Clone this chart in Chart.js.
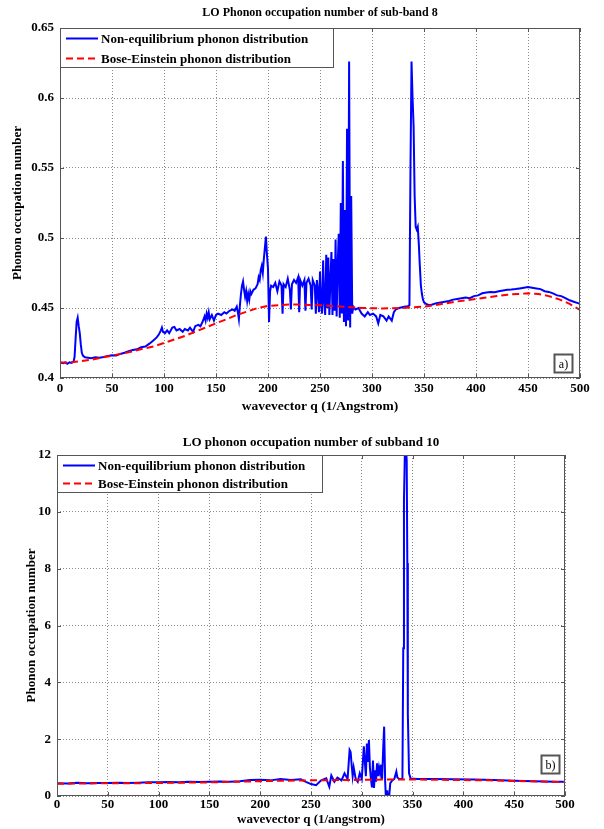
<!DOCTYPE html>
<html><head><meta charset="utf-8">
<script src="https://cdn.jsdelivr.net/npm/chart.js@4/dist/chart.umd.min.js"></script>
<style>
html,body{margin:0;padding:0;background:#fff;width:604px;height:829px;overflow:hidden}
canvas{position:absolute;left:0}
#c1{top:0}
#c2{top:418px}
</style></head><body>
<canvas id="c1" width="604" height="418" style="width:604px;height:418px"></canvas>
<canvas id="c2" width="604" height="411" style="width:604px;height:411px"></canvas>
<script>
// ---------- Panel a) sub-band 8 ----------
const titleA = 'LO Phonon occupation number of sub-band 8';
const xLabelA = 'wavevector q (1/Angstrom)';
const yLabel = 'Phonon occupation number';
const seriesNames = ['Non-equilibrium phonon distribution', 'Bose-Einstein phonon distribution'];
const xTicks = [0, 50, 100, 150, 200, 250, 300, 350, 400, 450, 500];
const xTickLabels = ['0', '50', '100', '150', '200', '250', '300', '350', '400', '450', '500'];
const yTicksA = [0.4, 0.45, 0.5, 0.55, 0.6, 0.65];
const yTickLabelsA = ['0.4', '0.45', '0.5', '0.55', '0.6', '0.65'];

const qNeqA = [
  0,3,5,7,9,11,13,14,15,16,
  17,18,19,20,21,22,24,27,30,34,
  38,42,46,50,54,58,62,66,70,74,
  78,82,86,90,93,95,97,98,99,101,
  103,105,108,110,112,115,118,120,123,125,
  128,130,133,135,137,139,140,141,142,143,
  144,146,148,150,152,155,158,160,163,166,
  168,170,171,172,173,174,175,176,177,178,
  179,180,181,182,183,184,186,188,190,191,
  192,193,194,195,196,197,198,199,200,201,
  202,203,205,207,209,211,213,214,215,217,
  219,221,222,223,225,227,229,230,231,233,
  235,236,237,239,241,242,243,245,246,247,
  248,249,250,251,252,253,254,255,256,257,
  258,259,260,261,262,263,264,265,266,267,
  268,269,270,271,272,273,274,275,276,277,
  278,279,280,281,282,284,287,290,293,296,
  298,301,304,306,308,311,314,316,319,321,
  323,326,329,332,334,336,337,338,339,340,
  341,342,343,344,345,346,347,348,349,350,
  352,355,358,362,366,370,374,378,382,386,
  390,394,398,402,406,410,414,418,422,426,
  430,434,438,442,446,450,454,458,462,466,
  470,474,478,482,486,490,494,498,500
];
const nNeqA = [
  0.411,0.4105,0.4112,0.4102,0.4112,0.4108,0.4115,0.415,0.428,0.440,
  0.443,0.437,0.432,0.424,0.418,0.416,0.4148,0.4145,0.4142,0.4148,
  0.4145,0.415,0.4158,0.4162,0.416,0.4172,0.418,0.4192,0.420,0.4205,
  0.422,0.4225,0.4245,0.427,0.429,0.431,0.434,0.436,0.433,0.432,
  0.434,0.432,0.436,0.4365,0.434,0.435,0.433,0.435,0.434,0.436,
  0.433,0.437,0.438,0.437,0.440,0.444,0.441,0.446,0.443,0.447,
  0.442,0.445,0.441,0.445,0.446,0.445,0.447,0.446,0.448,0.449,
  0.448,0.451,0.447,0.442,0.452,0.460,0.466,0.469,0.463,0.458,
  0.462,0.455,0.460,0.456,0.462,0.460,0.463,0.464,0.467,0.472,
  0.470,0.477,0.480,0.475,0.485,0.493,0.501,0.488,0.478,0.440,
  0.462,0.466,0.465,0.468,0.462,0.469,0.466,0.446,0.467,0.465,
  0.471,0.463,0.449,0.467,0.470,0.468,0.472,0.447,0.470,0.466,
  0.470,0.448,0.468,0.471,0.466,0.449,0.470,0.466,0.446,0.470,
  0.463,0.447,0.476,0.452,0.446,0.484,0.455,0.445,0.488,0.450,
  0.486,0.445,0.470,0.490,0.445,0.485,0.448,0.499,0.444,0.480,
  0.503,0.443,0.525,0.446,0.555,0.440,0.520,0.437,0.578,0.441,
  0.626,0.436,0.530,0.446,0.451,0.449,0.450,0.446,0.444,0.447,
  0.445,0.446,0.444,0.439,0.445,0.444,0.441,0.444,0.441,0.447,
  0.449,0.450,0.4505,0.451,0.451,0.452,0.550,0.626,0.600,0.580,
  0.530,0.508,0.506,0.508,0.496,0.480,0.466,0.460,0.456,0.454,
  0.453,0.452,0.4525,0.4535,0.454,0.4545,0.455,0.456,0.4565,0.457,
  0.4575,0.457,0.4585,0.459,0.4605,0.461,0.4615,0.4612,0.462,0.4625,
  0.463,0.4632,0.4635,0.464,0.4645,0.465,0.4645,0.464,0.4635,0.462,
  0.4615,0.4605,0.459,0.4585,0.457,0.4555,0.4545,0.4535,0.453
];
const qBeA = [0,10,20,30,40,50,60,70,80,90,100,110,120,130,140,150,160,170,180,190,200,
  210,220,230,240,250,260,270,280,290,300,310,320,330,340,350,360,370,380,390,400,
  410,420,430,440,450,460,470,480,490,500];
const nBeA = [0.411,0.4112,0.412,0.413,0.4145,0.416,0.4175,0.419,0.421,0.4225,0.425,
  0.4275,0.430,0.433,0.436,0.439,0.442,0.445,0.4475,0.450,0.4515,
  0.452,0.4525,0.4525,0.4522,0.452,0.4515,0.451,0.4505,0.450,0.4498,
  0.4497,0.4498,0.450,0.4505,0.451,0.452,0.4532,0.4545,0.4555,0.4565,
  0.4575,0.4585,0.4595,0.460,0.4605,0.460,0.4585,0.4562,0.453,0.4486];

// ---------- Panel b) subband 10 ----------
const titleB = 'LO phonon occupation number of subband 10';
const xLabelB = 'wavevector q (1/angstrom)';
const yTicksB = [0, 2, 4, 6, 8, 10, 12];
const yTickLabelsB = ['0', '2', '4', '6', '8', '10', '12'];
const qNeqB = [
  0,10,20,30,40,50,60,70,80,90,
  100,110,120,130,140,150,160,170,180,190,
  200,210,220,230,240,245,250,255,260,265,
  268,270,273,276,280,283,286,288,289,290,
  291,292,294,296,298,300,302,303,304,305,
  306,307,308,309,310,311,312,313,314,315,
  316,317,318,319,320,321,322,323,324,325,
  326,327,328,330,332,334,335,337,339,340,
  340.8,341.5,342.5,343.5,344.2,344.8,345.3,346.5,348,355,
  370,390,410,430,450,470,490,500
];
const nNeqB = [
  0.45,0.44,0.47,0.45,0.46,0.46,0.47,0.46,0.47,0.48,
  0.48,0.49,0.48,0.5,0.49,0.5,0.51,0.5,0.52,0.56,
  0.57,0.55,0.6,0.56,0.59,0.5,0.42,0.38,0.55,0.62,
  0.33,0.72,0.5,0.65,0.55,0.8,0.6,1.62,1.55,1.1,
  0.7,1.0,0.6,0.5,0.8,0.6,1.75,1.2,0.7,1.85,
  1.2,1.97,1.0,0.6,0.3,1.25,0.28,0.9,0.5,1.15,
  0.7,1.0,0.8,1.1,0.6,1.6,2.44,0.5,-0.3,0.2,
  -0.3,0.0,0.45,0.55,0.6,0.86,0.65,0.6,0.6,0.62,
  5.2,10.4,12.3,12.3,11.8,8.2,2.9,0.8,0.62,0.6,
  0.6,0.59,0.58,0.56,0.54,0.52,0.5,0.5
];
const qBeB = [0,25,50,75,100,125,150,175,200,225,250,275,300,325,350,375,400,425,450,475,500];
const nBeB = [0.43,0.44,0.45,0.45,0.46,0.47,0.48,0.50,0.52,0.54,0.55,0.56,0.57,0.58,0.58,0.57,0.56,0.55,0.53,0.51,0.49];

// ---------- drawing ----------
const serif = "'Liberation Serif', 'Times New Roman', serif";
const pts = (xs, ys) => xs.map((v, i) => ({x: v, y: ys[i]}));

const matlabFrame = {
  id: 'matlabFrame',
  afterDatasetsDraw(chart, args, o) {
    const {ctx, chartArea: a, scales: {x, y}} = chart;
    ctx.save();
    ctx.strokeStyle = '#555'; ctx.lineWidth = 1; ctx.setLineDash([]);
    ctx.beginPath();
    x.ticks.forEach(t => {
      const p = Math.round(x.getPixelForValue(t.value)) + 0.5;
      ctx.moveTo(p, a.bottom); ctx.lineTo(p, a.bottom - 4);
      ctx.moveTo(p, a.top); ctx.lineTo(p, a.top + 4);
    });
    y.ticks.forEach(t => {
      const p = Math.round(y.getPixelForValue(t.value)) + 0.5;
      ctx.moveTo(a.left, p); ctx.lineTo(a.left + 4, p);
      ctx.moveTo(a.right, p); ctx.lineTo(a.right - 4, p);
    });
    ctx.stroke();
    ctx.strokeRect(a.left + 0.5, a.top + 0.5, a.width - 1, a.height - 1);
    // legend box (MATLAB style, inside the axes)
    const lx = a.left, ly = a.top, lw = o.legendW, lh = o.legendH;
    ctx.fillStyle = '#fff'; ctx.fillRect(lx, ly, lw, lh);
    ctx.strokeStyle = '#555'; ctx.lineWidth = 1;
    ctx.strokeRect(lx + 0.5, ly + 0.5, lw - 1, lh - 1);
    ctx.font = `bold ${o.fontSize}px ${serif}`;
    ctx.textBaseline = 'middle'; ctx.textAlign = 'left';
    chart.data.datasets.forEach((d, i) => {
      const yy = Math.round(ly + lh * (i === 0 ? 0.26 : 0.74)) + 0.5;
      ctx.strokeStyle = d.borderColor; ctx.lineWidth = 2; ctx.setLineDash(d.borderDash || []);
      ctx.beginPath(); ctx.moveTo(lx + o.s0, yy); ctx.lineTo(lx + o.s1, yy); ctx.stroke();
      ctx.setLineDash([]);
      ctx.fillStyle = '#000';
      ctx.fillText(d.label, lx + o.s1 + 3, yy + 1);
    });
    // panel tag
    const bw = 19, bh = 19;
    const bx = a.right - o.tagRight - bw, by = a.bottom - o.tagBottom - bh;
    ctx.fillStyle = '#fff'; ctx.fillRect(bx, by, bw, bh);
    ctx.strokeStyle = '#555'; ctx.strokeRect(bx + 0.5, by + 0.5, bw - 1, bh - 1);
    ctx.fillStyle = '#000'; ctx.font = `12px ${serif}`; ctx.textAlign = 'center';
    ctx.fillText(o.tag, bx + bw / 2, by + bh / 2 + 1);
    ctx.restore();
  }
};

function makeChart(id, cfg) {
  const H = cfg.H;
  const tickFont = {family: serif, size: 13, weight: 'bold'};
  return new Chart(document.getElementById(id), {
    type: 'line',
    data: {
      datasets: [
        {label: seriesNames[0], data: pts(cfg.qN, cfg.nN), borderColor: '#0000ff', borderWidth: 2,
         pointRadius: 0, tension: 0, fill: false, clip: 0, order: 2},
        {label: seriesNames[1], data: pts(cfg.qB, cfg.nB), borderColor: '#ff0000', borderWidth: 2,
         borderDash: [7, 4], pointRadius: 0, tension: 0, fill: false, clip: 0, order: 1}
      ]
    },
    options: {
      responsive: false, animation: false, devicePixelRatio: 1,
      layout: {padding: {left: 0, right: cfg.padRight, top: 0, bottom: 0}},
      plugins: {
        legend: {display: false}, tooltip: {enabled: false},
        title: {display: true, text: cfg.title, fullSize: false, color: '#000',
                font: {family: serif, size: cfg.titleSize, weight: 'bold'}, padding: cfg.titlePad},
        matlabFrame: cfg.frame
      },
      scales: {
        x: {
          type: 'linear', min: 0, max: 500,
          afterBuildTicks: s => { s.ticks = xTicks.map(v => ({value: v})); },
          afterFit: s => { s.height = H - cfg.bottom; },
          grid: {color: '#8a8a8a', lineWidth: 1, drawTicks: false},
          border: {display: false, dash: [1, 2]},
          ticks: {color: '#000', font: tickFont, padding: cfg.xTickPad, maxRotation: 0, autoSkip: false,
                  callback: (v, i) => xTickLabels[i]},
          title: {display: true, text: cfg.xLabel, color: '#000',
                  font: {family: serif, size: cfg.xLabelSize, weight: 'bold'},
                  padding: {top: 0, bottom: cfg.xTitlePad}}
        },
        y: {
          type: 'linear', min: cfg.yMin, max: cfg.yMax,
          afterBuildTicks: s => { s.ticks = cfg.yTicks.map(v => ({value: v})); },
          afterFit: s => { s.width = cfg.left; },
          grid: {color: '#8a8a8a', lineWidth: 1, drawTicks: false},
          border: {display: false, dash: [1, 2]},
          ticks: {color: '#000', font: tickFont, padding: 6, autoSkip: false,
                  callback: (v, i) => cfg.yTickLabels[i]},
          title: {display: true, text: yLabel, color: '#000', font: tickFont,
                  padding: {top: cfg.yTitlePad, bottom: 0}}
        }
      }
    },
    plugins: [matlabFrame]
  });
}

makeChart('c1', {
  H: 418, left: 60, bottom: 378, padRight: 24,
  title: titleA, titleSize: 12, titlePad: {top: 5.8, bottom: 7.8},
  xLabel: xLabelA, xLabelSize: 13.5, xTickPad: 3, xTitlePad: 2.9, yTitlePad: 10,
  yMin: 0.4, yMax: 0.65, yTicks: yTicksA, yTickLabels: yTickLabelsA,
  qN: qNeqA, nN: nNeqA, qB: qBeA, nB: nBeA,
  frame: {legendW: 274, legendH: 40, s0: 6, s1: 38, fontSize: 13, tag: 'a)', tagRight: 7, tagBottom: 5}
});
makeChart('c2', {
  H: 411, left: 57, bottom: 378, padRight: 39,
  title: titleB, titleSize: 13, titlePad: {top: 17.2, bottom: 4.2},
  xLabel: xLabelB, xLabelSize: 13, xTickPad: 1, xTitlePad: 1.2, yTitlePad: 24,
  yMin: 0, yMax: 12, yTicks: yTicksB, yTickLabels: yTickLabelsB,
  qN: qNeqB, nN: nNeqB, qB: qBeB, nB: nBeB,
  frame: {legendW: 266, legendH: 38, s0: 6, s1: 38, fontSize: 13, tag: 'b)', tagRight: 5, tagBottom: 22}
});
</script>
</body></html>
